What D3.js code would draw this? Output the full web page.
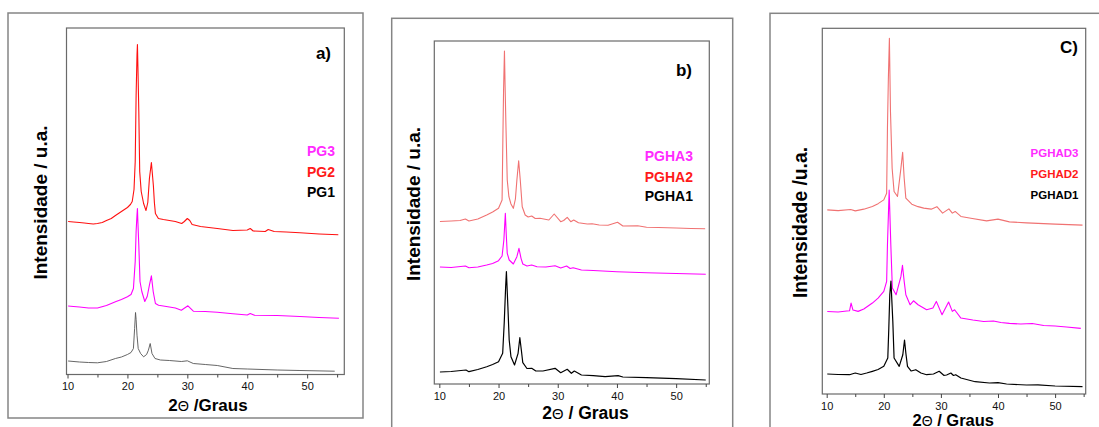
<!DOCTYPE html>
<html>
<head>
<meta charset="utf-8">
<script src="https://cdn.jsdelivr.net/npm/d3@7"></script>
<style>
  html, body { margin: 0; padding: 0; background: #fff; }
  svg { display: block; }
  text { font-family: "Liberation Sans", Arial, sans-serif; }
</style>
</head>
<body>
<svg id="chart" width="1099" height="427"></svg>
<script>
// X-ray diffractograms: [2θ (graus), intensidade (u.a.)]
const PG2 = [[10.1,153],[11,152.5],[12,152],[12.8,151.5],[13.5,151],[14.3,150.5],[15,151],[15.8,152],[16.5,154],[17.3,156],[18,159],[19,163],[20,167],[20.5,170],[20.8,173],[21.1,185],[21.3,213],[21.45,279],[21.6,320],[21.67,330],[21.75,308],[21.9,263],[22.05,203],[22.3,183],[22.7,171],[23.1,164],[23.4,172],[23.67,196],[24.0,212],[24.33,189],[24.5,172],[24.67,161],[25.17,156],[26,155],[27,154],[28,153],[29.06,151],[29.5,153],[30.0,156],[30.4,154],[30.8,150],[32.2,148],[35,146],[37.6,144],[40,144.5],[40.5,146],[41,143.5],[43,143],[43.5,145],[44.5,143],[46.5,142.5],[48.8,141.7],[52,140.5],[55.2,139.7]];
const PG3 = [[10.1,68.5],[11,68],[12,67.5],[13.5,66.5],[15,66.5],[16.5,69],[18,72.7],[19,75],[20,77.7],[20.6,80],[21,86],[21.3,113],[21.45,143],[21.6,160],[21.67,166],[21.75,152],[21.9,129.3],[22.1,93],[22.4,83],[22.9,73],[23.3,78],[23.67,89.3],[24.0,98.7],[24.3,83],[24.67,71],[25.2,69.3],[26.5,68],[28,66.5],[29,64.3],[30.1,68.7],[31,63.3],[33,63],[35,62.3],[37.6,60.7],[40,59.5],[40.5,61],[41.2,59.2],[45,59],[48.8,58],[52,57],[55.3,56.3]];
const PG1 = [[10.1,13.5],[12,12.5],[13.5,12],[15,11.7],[16.5,13],[18,16],[19,17.5],[20,20],[20.6,22],[21,26],[21.2,46],[21.35,62],[21.45,55],[21.6,39.3],[21.8,26],[22.2,21],[22.7,17.7],[23.2,20],[23.5,24.3],[23.8,31],[24.1,21],[24.6,16],[25.5,14.5],[27,14],[29,13],[30,13.7],[31,11],[33,10],[35,9],[37.6,6],[40,5.5],[45,4.5],[48.8,4],[54.6,3.3]];

const PGHA2 = [[10.1,162.5],[12,163],[13.5,163.5],[14.4,165],[15,163],[16.5,165],[18,169],[19,172],[20,175.7],[20.6,184],[20.73,244],[20.85,294],[21.0,333],[21.1,300],[21.24,261],[21.47,204],[21.75,187.3],[22.1,180],[22.5,175.7],[22.85,185],[23.1,204],[23.4,223.3],[23.67,204],[24.0,177.3],[24.5,169],[25.0,167],[25.6,168],[26.2,165.5],[27,165.7],[28.5,164],[29.4,170],[30.5,162.3],[31.0,163.5],[31.6,166.7],[32.2,162.3],[32.7,164],[33.5,161.3],[35,160],[35.8,160.3],[37,159],[38.5,158.7],[40.1,161.7],[41,158],[43.5,158.3],[45,156.7],[47,156.5],[50,156],[52.5,155.5],[54.9,155.3]];
const PGHA3 = [[10.1,117],[12,116.5],[14.4,118],[15,116.3],[16.5,117],[18,119],[19,120.5],[20,123.3],[20.6,128],[20.9,144],[21.15,170.7],[21.3,150],[21.47,130.7],[21.8,124],[22.5,120],[23.1,127.3],[23.45,135.7],[23.8,125.7],[24.1,120],[24.8,118],[25.6,119],[26.5,117.3],[28,117],[29.55,118.3],[30.5,116],[31.5,118],[32.1,115.5],[32.6,116.3],[34,114],[36,113.5],[40,112.3],[45,111.3],[50,110.5],[55,109.7]];
const PGHA1 = [[10.1,12],[12,12.5],[14.5,14],[15,12.3],[16.5,14.5],[18,17.3],[19,19.5],[20,22.3],[20.7,30.7],[20.96,61],[21.2,97.3],[21.33,112.3],[21.58,77.3],[21.8,44],[22.1,27.3],[22.7,19],[23.3,30.7],[23.6,46.3],[23.85,34],[24.1,21.3],[24.8,15.5],[25.6,15.7],[26.3,13],[27.5,13],[29.55,15.7],[30.5,11.3],[31.6,14.7],[32.3,10.7],[32.8,13],[34,9],[36,8.3],[38,7.3],[40.2,8.3],[41,7],[45,6.3],[50,5.3],[55,4]];

const PGHAD2 = [[10.1,184.3],[12,183.5],[14.2,184.7],[15,183.3],[16.5,185],[18,187.7],[19,190.5],[20,194.3],[20.5,201],[20.64,266],[20.8,316],[20.98,356],[21.17,282.7],[21.46,226],[21.8,202.7],[22.4,197.7],[23.0,226],[23.3,242],[23.57,216],[23.86,196],[24.9,190],[26,187.5],[27,186],[28.3,185],[29.3,187.5],[30.3,181],[31.4,185.3],[32.0,181],[32.5,182.7],[33.5,177.7],[35.5,175.7],[38,173.3],[40,175],[42,172.3],[45,171.3],[50,170],[54.8,169]];
const PGHAD3 = [[10.1,82.5],[12,82],[13.5,83],[14.0,83.3],[14.27,91],[14.6,84],[15.5,82.7],[16.5,85],[18,91],[19,96],[20,102.7],[20.5,112.7],[20.64,149.3],[20.94,204],[21.23,149.3],[21.5,106],[22.15,99.3],[23.0,117.7],[23.27,128.8],[23.57,112.7],[23.86,99.3],[24.6,89.3],[25.2,93.3],[26,89.3],[27.5,84.3],[28.6,86],[29.2,92.7],[30.2,79.3],[31.35,92],[32.0,82.7],[32.4,84.3],[33.5,76],[35.6,74],[37.5,72.5],[39.2,73],[40.5,71.5],[42,70.7],[44,70],[46,70.5],[48,68.5],[50,68],[52,67],[54.5,65.7]];
const PGHAD1 = [[10.1,20],[12,19.5],[14,19.3],[15,21],[16,19.5],[17,21],[18,22.7],[19,24.5],[20,27.7],[20.7,36],[20.88,66],[21.05,99.3],[21.25,113],[21.58,72.7],[21.8,36],[22.7,27.7],[23.33,39.3],[23.63,54],[23.86,41],[24.15,27.7],[24.8,23],[25.6,24.3],[26.5,21],[27.5,19.3],[28.7,20],[29.7,22.7],[30.5,18.7],[31.0,19],[31.75,21],[32.2,18.5],[32.6,19.3],[33.5,16],[36,12.3],[38.5,11],[40,11.3],[41.5,10],[45,9],[47,9.2],[50,8],[54.8,7.3]];

const majorTicks = [10, 20, 30, 40, 50];
const minorTicks = [15, 25, 35, 45, 55];
const labelsA = ["PG3", "PG2", "PG1"];
const labelsB = ["PGHA3", "PGHA2", "PGHA1"];
const labelsC = ["PGHAD3", "PGHAD2", "PGHAD1"];

const MAGENTA = "#ff00ff", RED = "#ff1010", SALMON = "#f07272";
const labelColors = ["#ff2bff", "#ff1a1a", "#000"];

const panels = [
  {
    frame: [8, 13, 355, 405],
    plot: {x0: 66.5, x1: 344.3, y0: 28, y1: 374.5},
    xDomain: [9.83, 56.2], yMax: 346.5,
    series: [{d: PG2, c: RED, w: 1.1}, {d: PG3, c: MAGENTA, w: 1.1}, {d: PG1, c: "#555", w: 0.9}],
    tag: "a)", tagPos: [331, 59], tagSize: 17,
    labels: labelsA, labelX: 335, labelY: [156, 176.5, 197], labelSize: 14,
    yTitle: "Intensidade / u.a.", yTitlePos: [40, 202.5], yTitleSize: 19,
    xTitle: ["2", "Θ", " /Graus"], xTitlePos: [208, 411], xTitleSize: 17
  },
  {
    frame: [391.7, 18.3, 341, 430],
    plot: {x0: 434.3, x1: 709.3, y0: 41, y1: 384},
    xDomain: [9.15, 55.6], yMax: 343,
    series: [{d: PGHA2, c: SALMON, w: 1.1}, {d: PGHA3, c: MAGENTA, w: 1.1}, {d: PGHA1, c: "#000", w: 1.2}],
    tag: "b)", tagPos: [692, 76], tagSize: 17,
    labels: labelsB, labelX: 693, labelY: [161, 181.5, 201], labelSize: 14,
    yTitle: "Intensidade / u.a.", yTitlePos: [413.3, 204], yTitleSize: 19,
    xTitle: ["2", "Θ", " / Graus"], xTitlePos: [585.5, 419], xTitleSize: 17.5
  },
  {
    frame: [770, 13.3, 345, 430],
    plot: {x0: 822.3, x1: 1085.7, y0: 28.3, y1: 394},
    xDomain: [9.23, 55.36], yMax: 366,
    series: [{d: PGHAD2, c: SALMON, w: 1.1}, {d: PGHAD3, c: MAGENTA, w: 1.1}, {d: PGHAD1, c: "#000", w: 1.2}],
    tag: "C)", tagPos: [1078, 52.5], tagSize: 17,
    labels: labelsC, labelX: 1078.5, labelY: [156.5, 178, 198.5], labelSize: 11.5,
    yTitle: "Intensidade /u.a.", yTitlePos: [800.7, 222.5], yTitleSize: 19.3,
    xTitle: ["2", "Θ", " / Graus"], xTitlePos: [953.3, 425.5], xTitleSize: 16.5
  }
];

const svg = d3.select("#chart");

panels.forEach(p => {
  const g = svg.append("g");
  const {x0, x1, y0, y1} = p.plot;

  // outer figure frame
  g.append("rect")
    .attr("x", p.frame[0]).attr("y", p.frame[1])
    .attr("width", p.frame[2]).attr("height", p.frame[3])
    .attr("fill", "none").attr("stroke", "#858585").attr("stroke-width", 1.5);

  const x = d3.scaleLinear().domain(p.xDomain).range([x0, x1]);
  const y = d3.scaleLinear().domain([0, p.yMax]).range([y1, y0]);

  // diffractogram traces
  const line = d3.line().x(d => x(d[0])).y(d => y(d[1]));
  p.series.forEach(s => {
    g.append("path").datum(s.d)
      .attr("d", line)
      .attr("fill", "none")
      .attr("stroke", s.c)
      .attr("stroke-width", s.w)
      .attr("stroke-linejoin", "round");
  });

  // plot box
  g.append("rect")
    .attr("x", x0).attr("y", y0)
    .attr("width", x1 - x0).attr("height", y1 - y0)
    .attr("fill", "none").attr("stroke", "#6a6a6a").attr("stroke-width", 1.2);

  // bottom axis: labelled major ticks and unlabelled minor ticks
  const axMajor = d3.axisBottom(x).tickValues(majorTicks).tickSizeInner(4).tickSizeOuter(0).tickPadding(4).tickFormat(d3.format("d"));
  const axMinor = d3.axisBottom(x).tickValues(minorTicks).tickSizeInner(3).tickSizeOuter(0).tickFormat("");
  [axMajor, axMinor].forEach(ax => {
    const a = g.append("g").attr("transform", `translate(0,${y1})`).call(ax);
    a.select(".domain").remove();
    a.selectAll("line").attr("stroke", "#444").attr("stroke-width", 1);
    a.selectAll("text")
      .attr("fill", "#111")
      .style("font-size", "11px")
      .style("font-family", "'Liberation Sans', Arial, sans-serif");
  });

  // panel tag
  g.append("text")
    .attr("x", p.tagPos[0]).attr("y", p.tagPos[1])
    .attr("text-anchor", "end")
    .attr("font-weight", "bold")
    .attr("font-size", p.tagSize)
    .attr("fill", "#000")
    .text(p.tag);

  // sample labels
  p.labels.forEach((t, i) => {
    g.append("text")
      .attr("x", p.labelX).attr("y", p.labelY[i])
      .attr("text-anchor", "end")
      .attr("font-weight", "bold")
      .attr("font-size", p.labelSize)
      .attr("fill", labelColors[i])
      .text(t);
  });

  // y-axis title
  g.append("text")
    .attr("transform", `translate(${p.yTitlePos[0]},${p.yTitlePos[1]}) rotate(-90)`)
    .attr("text-anchor", "middle")
    .attr("dominant-baseline", "central")
    .attr("font-weight", "bold")
    .attr("font-size", p.yTitleSize)
    .attr("fill", "#000")
    .text(p.yTitle);

  // x-axis title
  const xt = g.append("text")
    .attr("x", p.xTitlePos[0]).attr("y", p.xTitlePos[1])
    .attr("text-anchor", "middle")
    .attr("font-weight", "bold")
    .attr("font-size", p.xTitleSize)
    .attr("fill", "#000");
  xt.append("tspan").text(p.xTitle[0]);
  xt.append("tspan").attr("font-weight", "normal").attr("font-size", p.xTitleSize * 0.85).text(p.xTitle[1]);
  xt.append("tspan").text(p.xTitle[2]);
});
</script>
</body>
</html>
